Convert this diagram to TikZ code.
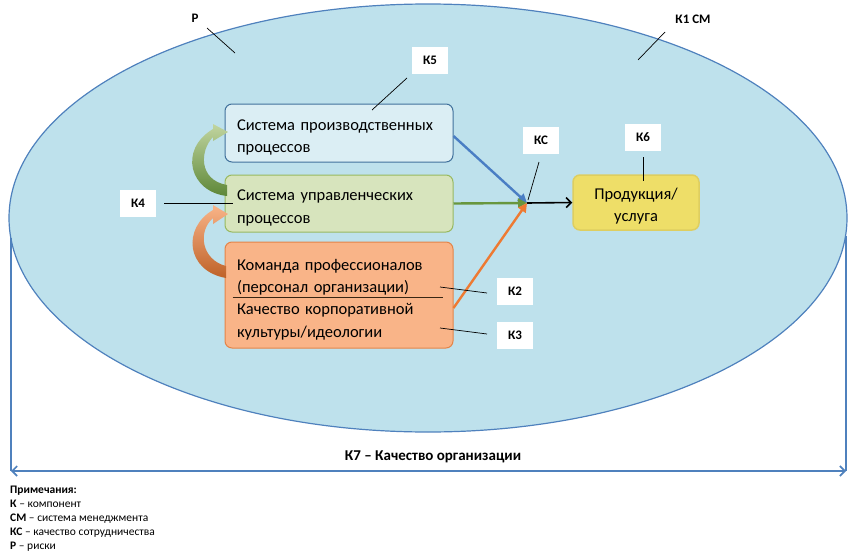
\documentclass[tikz,border=0pt]{standalone}
\usepackage{fontspec}
\setmainfont{Carlito}
\usetikzlibrary{arrows.meta,calc}
\definecolor{ovalfill}{RGB}{190,225,236}
\definecolor{ovalline}{RGB}{79,129,189}
\definecolor{prodfill}{RGB}{219,238,244}
\definecolor{prodline}{RGB}{65,113,156}
\definecolor{mgmtfill}{RGB}{215,228,189}
\definecolor{mgmtline}{RGB}{152,185,96}
\definecolor{teamfill}{RGB}{249,180,136}
\definecolor{teamline}{RGB}{228,132,72}
\definecolor{outfill}{RGB}{238,222,104}
\definecolor{outborder}{RGB}{222,206,96}
\definecolor{arrblue}{RGB}{74,126,196}
\definecolor{arrgreen}{RGB}{104,150,62}
\definecolor{arrorange}{RGB}{238,122,50}
\newcommand{\firststrut}{\rule{0pt}{20pt}}

\begin{document}
\begin{tikzpicture}[x=1pt,y=-1pt,
  procbox/.style={draw, rounded corners=7pt, line width=1pt, minimum width=228pt, text width=204pt, align=left, inner xsep=12pt, font=\fontsize{16.5}{22.3}\selectfont},
  kbox/.style={fill=white, minimum width=36pt, minimum height=27pt, inner sep=0pt, font=\bfseries\fontsize{13}{15}\selectfont},
  klabel/.style={font=\bfseries\fontsize{13}{15}\selectfont},
  leader/.style={draw=black, line width=0.7pt},
  joinarrow/.style={line width=2.4pt, -{Triangle[length=9pt,width=9pt]}}]
\useasboundingbox (0,0) rectangle (855,557);
% Organisation (oval) and K7
\filldraw[fill=ovalfill, draw=ovalline, line width=1.2pt] (428,218) ellipse [x radius=419, y radius=214];
\coordinate (lefttop) at (11,238);
\coordinate (righttop) at (846,236);
\coordinate (leftend) at (11,471);
\coordinate (rightend) at (846,471);
\draw[ovalline, line width=1.2pt] (lefttop) -- (leftend);
\draw[ovalline, line width=1.2pt] (righttop) -- (rightend);
\draw[ovalline, line width=1.6pt, {Straight Barb[length=5pt,width=10pt]}-{Straight Barb[length=5pt,width=10pt]}] (leftend) -- (rightend);
\node[font=\bfseries\fontsize{15}{17}\selectfont] (k7) at (433,457) {К7 – Качество организации};
% Boxes
\node[procbox, fill=prodfill, draw=prodline, minimum height=58pt] (prod) at (339,133) {\firststrut Система производственных\\процессов};
\node[procbox, fill=mgmtfill, draw=mgmtline, minimum height=57pt] (mgmt) at (339,203.5) {\firststrut Система управленческих\\процессов};
\node[procbox, fill=teamfill, draw=teamline, minimum height=106pt] (team) at (339,295) {\firststrut Команда профессионалов\\(персонал организации)\\Качество корпоративной\\культуры/идеологии};
\draw[black!70!brown, line width=0.8pt] ([xshift=8pt,yshift=-2pt]team.west) -- ([xshift=-11pt,yshift=-2pt]team.east);
\node[draw=outborder, fill=outfill, line width=1.5pt, rounded corners=7pt, minimum width=126pt, minimum height=55pt, align=center, font=\fontsize{16.5}{22.3}\selectfont] (out) at (636,202.5) {\rule{0pt}{18pt}Продукция/\\услуга};
% Curved block arrows
\shade[top color=mgmtline!60!white, bottom color=arrgreen!90!black] (227,196) .. controls (190,192) and (178,150) .. (213,129) -- (213,124) -- (228,132) -- (213,141) -- (213,137) .. controls (200,150) and (198,180) .. (227,185) -- cycle;
\shade[top color=teamfill, bottom color=arrorange!80!black] (226,278) .. controls (186,271) and (182,228) .. (213,210) -- (213,205) -- (228,214) -- (213,224) -- (213,218) .. controls (197,232) and (202,260) .. (226,266) -- cycle;
% Joining arrows
\coordinate (kcpt) at (527,203);
\draw[joinarrow, arrblue] ([yshift=-3pt]prod.east) -- (kcpt);
\draw[joinarrow, arrgreen] (mgmt.east) -- (kcpt);
\draw[joinarrow, arrorange] ([yshift=-13pt]team.east) -- (kcpt);
\draw[line width=1.6pt, -{Straight Barb[length=5pt,width=10pt]}] (kcpt) -- (out.west);
% Labels
\node[klabel] (p) at (195,18) {Р};
\node[klabel] (k1) at (693,19) {К1 СМ};
\node[kbox] (k5) at (430,60) {К5};
\node[kbox] (kc) at (541,140) {КС};
\node[kbox] (k6) at (643,137) {К6};
\node[kbox] (k4) at (138,203) {К4};
\node[kbox] (k2) at (515,291) {К2};
\node[kbox] (k3) at (515,335) {К3};
\coordinate (pa) at (207,28);  \coordinate (pb) at (235,53);
\coordinate (k1a) at (665,32); \coordinate (k1b) at (638,60);
\coordinate (k5a) at (407,78); \coordinate (k5b) at (372,110);
\coordinate (kca) at (539,162); \coordinate (kcb) at (528,200);
\coordinate (k6a) at (643,157); \coordinate (k6b) at (643,181);
\coordinate (k4a) at (164,203); \coordinate (k4b) at (233,203);
\coordinate (k2a) at (487,293); \coordinate (k2b) at (440,287);
\coordinate (k3a) at (487,334); \coordinate (k3b) at (440,328);
\foreach \a/\b in {pa/pb,k1a/k1b,k5a/k5b,kca/kcb,k6a/k6b,k4a/k4b,k2a/k2b,k3a/k3b}
  \draw[leader] (\a) -- (\b);
% Notes
\node[anchor=north west, align=left, inner sep=0pt, font=\fontsize{11.5}{14}\selectfont] (notes) at (10,486) {\textbf{Примечания:}\\\textbf{К} – компонент\\\textbf{СМ} – система менеджмента\\\textbf{КС} – качество сотрудничества\\\textbf{Р} – риски};
\end{tikzpicture}
\end{document}
